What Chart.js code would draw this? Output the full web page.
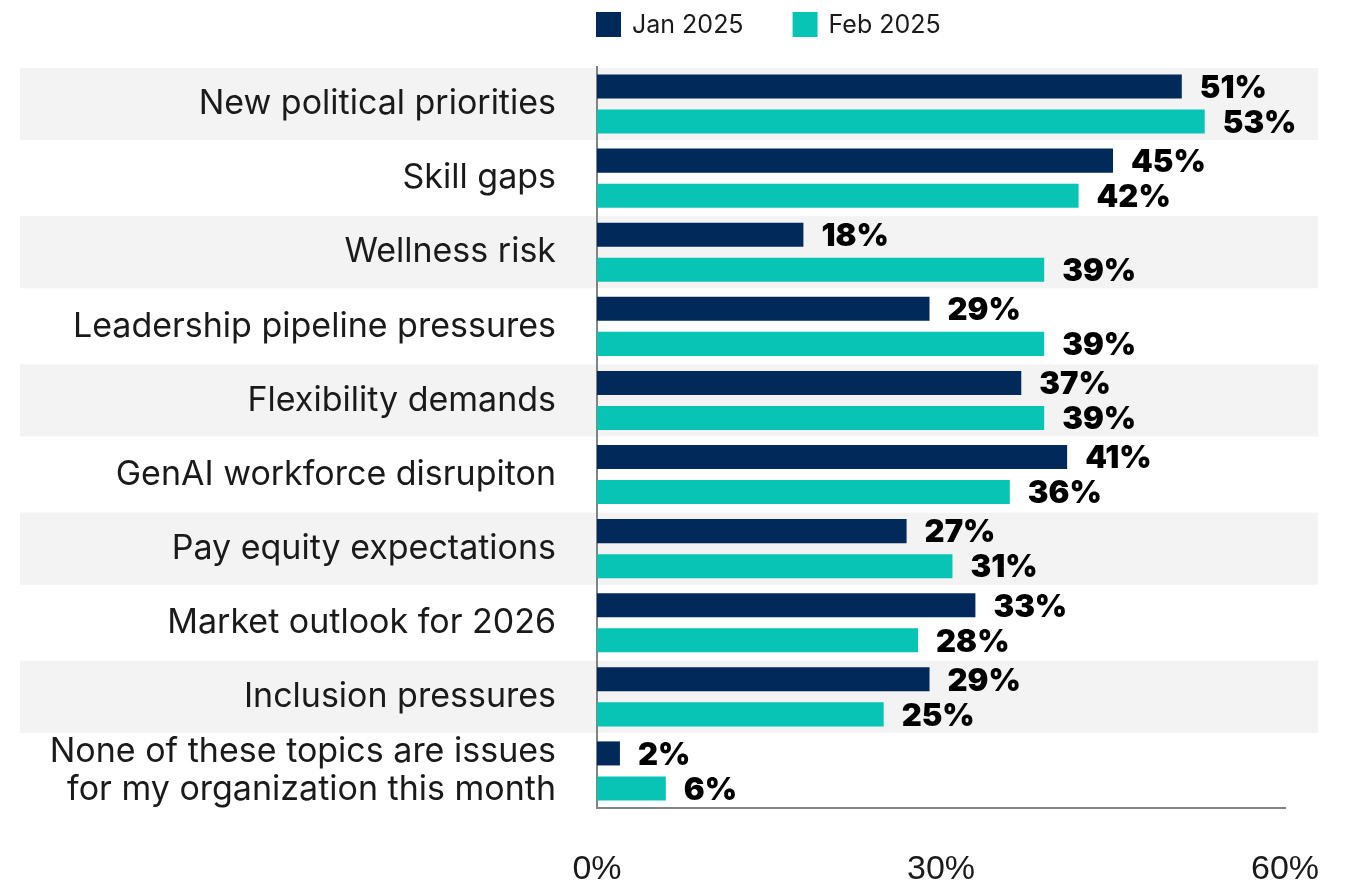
<!DOCTYPE html>
<html>
<head>
<meta charset="utf-8">
<script src="https://cdn.jsdelivr.net/npm/chart.js@4"></script>
<style>
  html, body { margin: 0; padding: 0; background: #fff; }
  #wrap { width: 1353px; height: 882px; }
</style>
</head>
<body>
<div id="wrap"><canvas id="topicChart" width="1353" height="882"></canvas></div>
<script>
// 카테고리 및 시리즈 값
const categories = [
    "New political priorities",
    "Skill gaps",
    "Wellness risk",
    "Leadership pipeline pressures",
    "Flexibility demands",
    "GenAI workforce disrupiton",
    "Pay equity expectations",
    "Market outlook for 2026",
    "Inclusion pressures",
    ["None of these topics are issues", "for my organization this month"]
];
const jan2025 = [51, 45, 18, 29, 37, 41, 27, 33, 29, 2];
const feb2025 = [53, 42, 39, 39, 39, 36, 31, 28, 25, 6];
const xTicks = [0, 30, 60];

const seriesColors = { jan: "#012a5b", feb: "#07c4b4" };

// 줄무늬 배경 (축/라벨보다 먼저 그림)
const bandPlugin = {
    id: 'bands',
    beforeDraw(chart) {
        const { ctx, scales: { y } } = chart;
        const half = (y.getPixelForValue(1) - y.getPixelForValue(0)) / 2;
        ctx.save();
        ctx.fillStyle = '#f3f3f3';
        categories.forEach((c, i) => {
            if (i % 2 === 0 && i < categories.length - 1) {
                const cy = y.getPixelForValue(i);
                ctx.fillRect(20, cy - half + 1, 1298, half * 2 - 2);
            }
        });
        ctx.restore();
    }
};

// 상단 범례 (데이터셋 라벨/색상 사용)
const topLegendPlugin = {
    id: 'topLegend',
    afterDraw(chart) {
        const { ctx } = chart;
        ctx.save();
        ctx.font = '25px Inter';
        ctx.textBaseline = 'middle';
        let x = 596;
        chart.data.datasets.forEach(ds => {
            ctx.fillStyle = ds.backgroundColor;
            ctx.fillRect(x, 12, 25, 25);
            ctx.fillStyle = '#1a1a1a';
            ctx.fillText(ds.label, x + 36, 25);
            x += 36 + ctx.measureText(ds.label).width + 49;
        });
        ctx.restore();
    }
};

// 값 라벨
const valueLabelPlugin = {
    id: 'valueLabels',
    afterDatasetsDraw(chart) {
        const { ctx } = chart;
        ctx.save();
        ctx.font = '900 31px Inter';
        ctx.fillStyle = '#000';
        ctx.textBaseline = 'middle';
        chart.data.datasets.forEach((ds, di) => {
            chart.getDatasetMeta(di).data.forEach((bar, i) => {
                ctx.fillText(ds.data[i] + '%', bar.x + 18, bar.y + 2);
            });
        });
        ctx.restore();
    }
};

new Chart(document.getElementById('topicChart'), {
    type: 'bar',
    data: {
        labels: categories,
        datasets: [
            { label: 'Jan 2025', data: jan2025, backgroundColor: seriesColors.jan },
            { label: 'Feb 2025', data: feb2025, backgroundColor: seriesColors.feb }
        ]
    },
    options: {
        indexAxis: 'y',
        responsive: false,
        animation: false,
        categoryPercentage: 0.946,
        barPercentage: 0.686,
        layout: { padding: { left: 0, right: 68, top: 67, bottom: 0 } },
        plugins: {
            legend: { display: false },
            tooltip: { enabled: false }
        },
        scales: {
            x: {
                min: 0,
                max: 60,
                afterBuildTicks(scale) {
                    scale.ticks = xTicks.map(v => ({ value: v }));
                },
                afterFit(scale) { scale.height = 74; },
                grid: { display: false },
                border: { display: true, color: '#7f8583', width: 2 },
                ticks: {
                    padding: 33,
                    maxRotation: 0,
                    color: '#1a1a1a',
                    font: { family: 'Liberation Sans', size: 34 },
                    callback: v => v + '%'
                }
            },
            y: {
                afterFit(scale) {
                    scale.width = 597;
                    scale.paddingTop = 0;
                    scale.paddingBottom = 0;
                },
                grid: { display: false },
                border: { display: true, color: '#7f8583', width: 2 },
                ticks: {
                    padding: 33,
                    autoSkip: false,
                    color: '#1a1a1a',
                    font: { family: 'Inter', size: 34, lineHeight: 1.1 }
                }
            }
        }
    },
    plugins: [bandPlugin, valueLabelPlugin, topLegendPlugin]
});
</script>
</body>
</html>
